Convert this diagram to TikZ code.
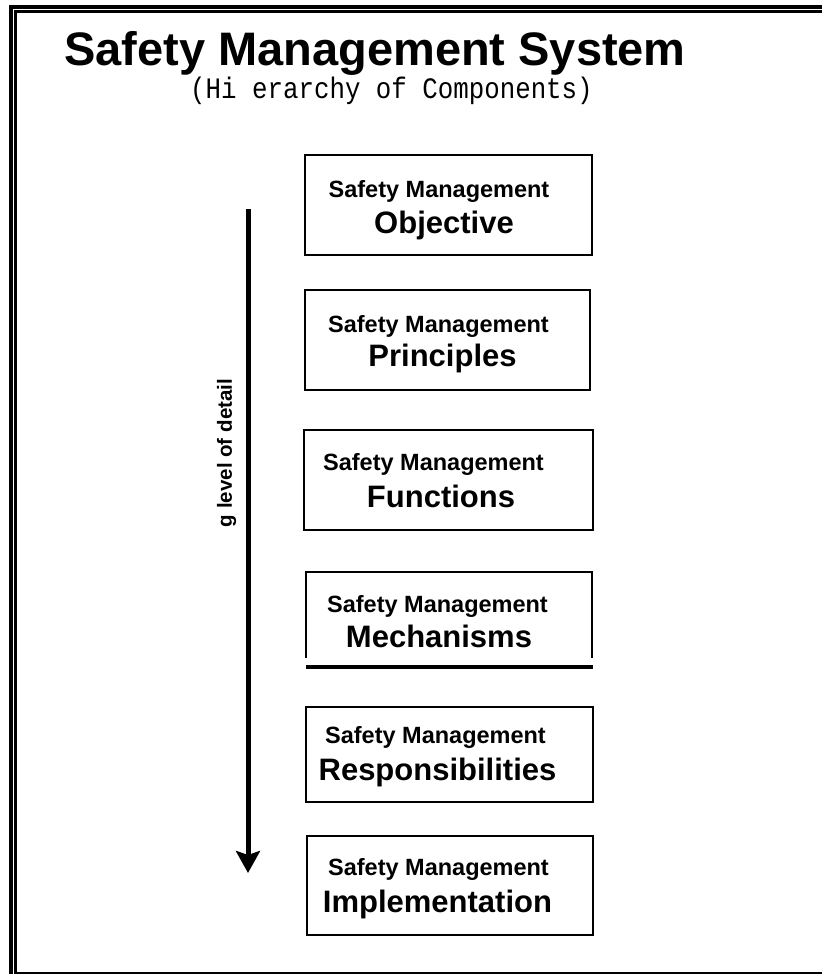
\documentclass[tikz,border=0pt]{standalone}
\usepackage{fontspec}
\setmainfont{Liberation Sans}
\newfontfamily\monof{Liberation Mono}
\usetikzlibrary{arrows.meta}
\tikzset{
  frame/.style={fill=black},
  compbox/.style={draw=black, line width=2.5pt, minimum width=287pt, minimum height=100pt, inner sep=0pt},
  lineone/.style={anchor=base, inner sep=0pt, font=\fontsize{23.5}{26}\selectfont\bfseries},
  linetwo/.style={anchor=base, inner sep=0pt, font=\fontsize{31}{34}\selectfont\bfseries},
}
\begin{document}
\begin{tikzpicture}[x=1pt,y=-1pt]
\useasboundingbox (0,0) rectangle (822,974);
% frame
\fill[frame] (9,4.7) rectangle (13,974);
\fill[frame] (14.3,10) rectangle (16.7,974);
\fill[frame] (9,4.7) rectangle (822,9);
\fill[frame] (14.3,10) rectangle (822,13.3);
\fill[frame] (16.7,971.5) rectangle (822,974);
% title
\node[anchor=base west, inner sep=0pt, font=\fontsize{47}{51}\selectfont\bfseries] (title) at (64,66) {Safety Management System};
\node[anchor=base west, inner sep=0pt, font=\monof\fontsize{25.8}{28}\selectfont] (subtitle) at (190,98) {\scalebox{1}[1.15]{(Hi erarchy of Components)}};
% boxes
\node[compbox] (obj) at (448.5,205) {};
\node[compbox, minimum width=285pt] (pri) at (447.5,340) {};
\node[compbox, minimum width=289pt] (fun) at (448.5,480) {};
\node[inner sep=0pt, minimum width=286pt, minimum height=86pt] (mech) at (449,615) {};
\draw[line width=2.5pt] (mech.south west) -- (mech.north west) -- (mech.north east) -- (mech.south east);
\coordinate (mechl) at ([yshift=-9pt]mech.south west);
\coordinate (mechr) at ([yshift=-9pt,xshift=1pt]mech.south east);
\draw[line width=3.5pt] (mechl) -- (mechr);
\node[compbox, minimum height=95pt] (res) at (449.5,754.5) {};
\node[compbox, minimum width=286pt, minimum height=99pt] (imp) at (450,885.5) {};
% texts
\node[lineone] (obj1) at (439,197) {Safety Management};
\node[linetwo] (obj2) at (444,233) {Objective};
\node[lineone] (pri1) at (438.5,332) {Safety Management};
\node[linetwo] (pri2) at (442.5,366) {Principles};
\node[lineone] (fun1) at (433.5,470) {Safety Management};
\node[linetwo] (fun2) at (441,507) {Functions};
\node[lineone] (mech1) at (437.5,612) {Safety Management};
\node[linetwo] (mech2) at (439,647) {Mechanisms};
\node[lineone] (res1) at (435.5,743) {Safety Management};
\node[linetwo] (res2) at (437.5,780) {Responsibilities};
\node[lineone] (imp1) at (438.5,875) {Safety Management};
\node[linetwo] (imp2) at (437.5,912) {Implementation};
% arrow
\coordinate (atop) at (248,209);
\coordinate (abot) at (248,873);
\draw[line width=5pt, -{Stealth[length=22pt,width=24pt,inset=4pt]}] (atop) -- (abot);
\node[rotate=90, inner sep=0pt, font=\fontsize{20.5}{22}\selectfont\bfseries] (lab) at (226.5,453) {g level of detail};
\end{tikzpicture}
\end{document}
